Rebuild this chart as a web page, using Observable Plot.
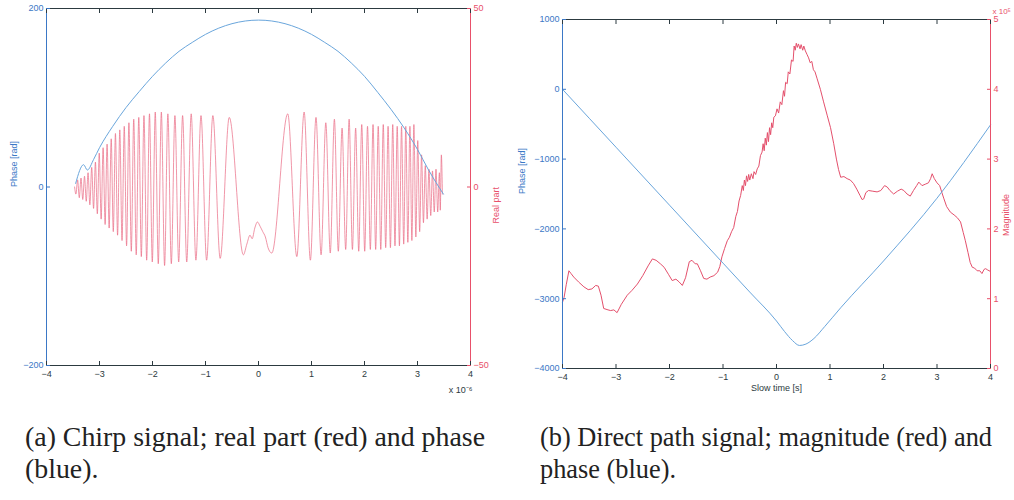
<!DOCTYPE html>
<html>
<head>
<meta charset="utf-8">
<script src="https://cdn.jsdelivr.net/npm/d3@7"></script>
<script src="https://cdn.jsdelivr.net/npm/@observablehq/plot@0.6"></script>
<style>
  html, body { margin: 0; padding: 0; background: #fff; }
  #page { position: relative; width: 1014px; height: 500px; overflow: hidden; background: #fff; }
  .panel { position: absolute; top: 0; }
  .cap { position: absolute; font-family: "Liberation Serif", "Times New Roman", serif; font-size: 28px; line-height: 32px; color: #222; transform-origin: 0 0; white-space: nowrap; }
  .cap .l1 { display: inline-block; }
</style>
</head>
<body>
<div id="page">
  <div id="left" class="panel" style="left:0px"></div>
  <div id="right" class="panel" style="left:500px"></div>
  <div class="cap" data-w="460" style="left:25px; top:421px;">
    <span class="l1">(a) Chirp signal; real part (red) and phase</span><br>
    <span>(blue).</span>
  </div>
  <div class="cap" data-w="452" style="left:540px; top:421px;">
    <span class="l1">(b) Direct path signal; magnitude (red) and</span><br>
    <span>phase (blue).</span>
  </div>
</div>
<script>
// ---------- Panel (a): chirp signal ----------
const xTicks = [-4, -3, -2, -1, 0, 1, 2, 3, 4];
const chirpPhaseTicks = [-200, 0, 200];
const chirpRealTicks = [-50, 0, 50];

// Phase (blue), time in units of 1e-6 s
const chirpPhaseT = [-3.45, -3.30, -3.23, -3.11, -3.0, -2.75, -2.5, -2.25, -2.0, -1.75, -1.5, -1.25, -1.0, -0.75, -0.5, -0.25, 0, 0.25, 0.5, 0.75, 1.0, 1.25, 1.5, 1.75, 2.0, 2.25, 2.5, 2.75, 3.0, 3.2, 3.35, 3.49];
const chirpPhaseV = [4, 25, 19, 31, 44, 68, 89, 107, 124, 139, 152, 162, 171, 178, 183, 186, 187, 186, 183, 178, 171, 162, 152, 139, 124, 106, 87, 66, 42, 20, 5, -8];

// Real part (red): successive extrema
const chirpReT = [
  -3.47, -3.445, -3.413, -3.381, -3.349, -3.316, -3.283, -3.250, -3.216, -3.182, -3.147, -3.112, -3.077, -3.041, -3.005,
  -2.969, -2.932, -2.894, -2.857, -2.818, -2.779, -2.740, -2.699, -2.659, -2.617, -2.575, -2.533, -2.489, -2.445,
  -2.400, -2.354, -2.307, -2.259, -2.211, -2.161, -2.110, -2.057, -2.004, -1.948, -1.891, -1.833, -1.772, -1.710,
  -1.645, -1.577, -1.506, -1.432, -1.354, -1.270, -1.181, -1.085, -0.979, -0.861, -0.723, -0.552, -0.285,
  -0.22, -0.16, -0.12, -0.07, -0.02, 0.03, 0.08, 0.13, 0.18, 0.25,
  0.552, 0.723, 0.861, 0.979, 1.085, 1.181, 1.270, 1.354, 1.432, 1.506, 1.577, 1.645, 1.710, 1.772, 1.833, 1.891,
  1.948, 2.004, 2.057, 2.110, 2.161, 2.211, 2.259, 2.307, 2.354, 2.400, 2.445, 2.489, 2.533, 2.575, 2.617, 2.659,
  2.699, 2.740, 2.779, 2.818, 2.857, 2.894, 2.932, 2.969, 3.005, 3.041, 3.077, 3.112, 3.147, 3.182, 3.216, 3.250,
  3.283, 3.316, 3.349, 3.381, 3.413, 3.43, 3.45, 3.47
];
const chirpReV = [
  0, -2, 2, -3, 2.5, -3.5, 3, -4, 4, -5, 5.5, -6, 7, -7.5, 9.5,
  -9, 11, -10.5, 12, -11.5, 13.5, -12.5, 15, -13.5, 16, -15, 17, -16.5, 18,
  -18, 19, -19, 19.5, -19.5, 20, -20.5, 20.5, -21, 21, -21.5, 21, -22, 20.5,
  -21.5, 20, -21, 20, -21, 20.5, -20.5, 20, -20.5, 20, -20, 19.5, -19,
  -16, -13.5, -14.5, -11.5, -9.8, -11, -12.5, -14, -17, -18.5,
  20.5, -19.5, 21, -20.5, 19.5, -19, 18, -18.5, 19, -18, 16.5, -17.5, 19, -17.5, 16.5, -18,
  17.5, -18, 17, -17.5, 17.5, -17.5, 17, -17.5, 17.5, -17, 17, -17, 17.5, -16.5, 17, -16.5,
  17, -16, 17, -15.5, 17, -15, 17.5, -14, 13, -12.5, 9, -10, 6, -9, 5, -8,
  4.5, -7, 5, -7, 4, -6.5, 9, -2
];

// ---------- Panel (b): direct path signal ----------
const slowTicks = [-4, -3, -2, -1, 0, 1, 2, 3, 4];
const dpPhaseTicks = [-4000, -3000, -2000, -1000, 0, 1000];
const dpMagTicks = [0, 1, 2, 3, 4, 5];

const dpPhaseT = [-4, -3, -2, -1, -0.5, 0, 0.15, 0.3, 0.43, 0.55, 0.7, 0.9, 1.2, 2, 3, 4];
const dpPhaseV = [0, -830, -1660, -2490, -2905, -3320, -3470, -3600, -3670, -3650, -3570, -3400, -3130, -2460, -1560, -510];

// Magnitude (x 10^5)
const dpMagT = [
  -4.00, -3.97, -3.93, -3.88, -3.84, -3.79, -3.70, -3.60, -3.52, -3.45, -3.38, -3.33, -3.28, -3.23, -3.15, -3.10, -3.04, -2.98,
  -2.90, -2.79, -2.70, -2.60, -2.50, -2.40, -2.32, -2.25, -2.17, -2.10, -2.02, -1.95, -1.88, -1.82, -1.76, -1.70, -1.63, -1.58,
  -1.52, -1.48, -1.42, -1.36, -1.30, -1.24, -1.17, -1.10, -1.06, -1.02, -0.97, -0.92, -0.88, -0.84, -0.80, -0.76, -0.73, -0.70,
  -0.67, -0.64, -0.62, -0.60, -0.58, -0.56, -0.54, -0.52, -0.50, -0.47, -0.44, -0.42, -0.39, -0.36, -0.33, -0.30, -0.27, -0.25,
  -0.23, -0.21, -0.19, -0.17, -0.15, -0.13, -0.11, -0.09, -0.07, -0.05, -0.02, 0.01, 0.04, 0.07, 0.10, 0.13, 0.15, 0.17, 0.20,
  0.22, 0.25, 0.28, 0.31, 0.33, 0.35, 0.37, 0.39, 0.41, 0.44, 0.46, 0.49, 0.51, 0.54, 0.57, 0.60, 0.63, 0.66, 0.69, 0.72, 0.76,
  0.82, 0.88, 0.95, 1.01, 1.07, 1.12, 1.16, 1.20, 1.26, 1.32, 1.38, 1.44, 1.50, 1.56, 1.60, 1.63, 1.67, 1.72, 1.80, 1.88, 1.95,
  2.02, 2.07, 2.12, 2.19, 2.26, 2.33, 2.38, 2.44, 2.50, 2.56, 2.62, 2.66, 2.72, 2.78, 2.84, 2.88, 2.91, 2.95, 3.00, 3.05, 3.10,
  3.13, 3.18, 3.25, 3.32, 3.38, 3.44, 3.49, 3.53, 3.58, 3.62, 3.66, 3.70, 3.75, 3.80, 3.84, 3.88, 3.91, 3.95, 4.00
];
const dpMagV = [
  0.95, 1.02, 1.20, 1.40, 1.36, 1.31, 1.24, 1.17, 1.13, 1.14, 1.19, 1.18, 1.05, 0.86, 0.84, 0.83, 0.84, 0.80,
  0.92, 1.05, 1.12, 1.21, 1.33, 1.47, 1.57, 1.55, 1.50, 1.45, 1.35, 1.26, 1.28, 1.24, 1.19, 1.30, 1.53, 1.55,
  1.50, 1.50, 1.40, 1.29, 1.28, 1.31, 1.33, 1.38, 1.46, 1.60, 1.72, 1.83, 1.88, 1.96, 2.02, 2.18, 2.25, 2.40,
  2.48, 2.62, 2.55, 2.70, 2.62, 2.76, 2.68, 2.78, 2.70, 2.79, 2.72, 2.82, 2.78, 2.86, 2.90, 3.05, 3.10, 3.22,
  3.12, 3.30, 3.20, 3.38, 3.25, 3.45, 3.35, 3.52, 3.45, 3.60, 3.62, 3.72, 3.66, 3.82, 3.78, 3.98, 3.90, 4.10, 4.08,
  4.25, 4.22, 4.42, 4.40, 4.62, 4.56, 4.66, 4.60, 4.65, 4.58, 4.64, 4.56, 4.62, 4.55, 4.50, 4.45, 4.38, 4.40, 4.28, 4.25, 4.15,
  4.00, 3.82, 3.62, 3.45, 3.22, 3.00, 2.85, 2.74, 2.75, 2.72, 2.70, 2.65, 2.57, 2.48, 2.42, 2.43, 2.52, 2.55, 2.54, 2.53, 2.55,
  2.62, 2.60, 2.55, 2.50, 2.54, 2.57, 2.55, 2.50, 2.47, 2.55, 2.62, 2.67, 2.62, 2.64, 2.66, 2.72, 2.79, 2.72, 2.66, 2.62, 2.50,
  2.43, 2.32, 2.24, 2.20, 2.16, 2.10, 1.95, 1.83, 1.66, 1.52, 1.45, 1.44, 1.40, 1.40, 1.36, 1.42, 1.43, 1.41, 1.39
];

// ---------- styling ----------
const BLUE_LINE = "#6aa6dc";
const BLUE_TEXT = "#3b78c6";
const RED_LINE = "#e4506c";
const RED_CHIRP = "#ea6882";
const RED_TEXT = "#e8506a";
const DARK = "#2c3a40";
const FONT = "'Liberation Sans', Arial, Helvetica, sans-serif";

function minus(v) { return v < 0 ? "\u2212" + Math.abs(v) : String(v); }

// Panel (a) – red real part mapped onto the phase scale (±50 -> ±200)
const kA = chirpPhaseTicks[2] / chirpRealTicks[2];
const phaseA = chirpPhaseT.map((t, i) => ({t, v: chirpPhaseV[i]}));
const realA = chirpReT.map((t, i) => ({t, v: chirpReV[i] * kA}));

const plotA = Plot.plot({
  width: 500, height: 400,
  marginLeft: 46, marginRight: 30, marginTop: 8, marginBottom: 35,
  style: {fontFamily: FONT, fontSize: "9px", background: "transparent", overflow: "visible"},
  x: {domain: [xTicks[0], xTicks[xTicks.length - 1]]},
  y: {domain: [chirpPhaseTicks[0], chirpPhaseTicks[2]]},
  marks: [
    Plot.line(realA, {x: "t", y: "v", stroke: RED_CHIRP, strokeWidth: 0.7, curve: "monotone-x"}),
    Plot.line(phaseA, {x: "t", y: "v", stroke: BLUE_LINE, strokeWidth: 1, curve: "monotone-x"}),
    Plot.ruleY([chirpPhaseTicks[2]], {stroke: DARK}),
    Plot.ruleY([chirpPhaseTicks[0]], {stroke: DARK}),
    Plot.ruleX([xTicks[0]], {stroke: BLUE_TEXT}),
    Plot.ruleX([xTicks[xTicks.length - 1]], {stroke: RED_TEXT}),
    Plot.axisX({anchor: "bottom", ticks: xTicks, tickSize: -4, tickPadding: 9, label: null, color: DARK, tickFormat: minus}),
    Plot.axisX({anchor: "top", ticks: xTicks, tickSize: -4, tickFormat: () => "", label: null, color: DARK}),
    Plot.axisY({anchor: "left", ticks: chirpPhaseTicks, tickSize: -4, tickPadding: 7, label: null, color: BLUE_TEXT, tickFormat: minus}),
    Plot.axisY({anchor: "right", ticks: chirpRealTicks.map(v => v * kA), tickSize: -4, tickPadding: 7, label: null, color: RED_TEXT, tickFormat: d => minus(d / kA)}),
    Plot.text(["Phase [rad]"], {frameAnchor: "left", rotate: -90, dx: -32, fill: BLUE_TEXT, fontSize: 9}),
    Plot.text(["Real part"], {frameAnchor: "right", rotate: -90, dx: 26, fill: RED_TEXT, fontSize: 9}),
    Plot.text(["x 10\u207B\u2076"], {frameAnchor: "bottom-right", textAnchor: "end", dx: 2, dy: 27, fill: DARK, fontSize: 9})
  ]
});
document.getElementById("left").appendChild(plotA);

// Panel (b) – magnitude mapped onto the phase scale (0..5 -> -4000..1000)
const mLo = dpPhaseTicks[0];
const kB = (dpPhaseTicks[dpPhaseTicks.length - 1] - dpPhaseTicks[0]) / dpMagTicks[dpMagTicks.length - 1];
const phaseB = dpPhaseT.map((t, i) => ({t, v: dpPhaseV[i]}));
const magB = dpMagT.map((t, i) => ({t, v: mLo + dpMagV[i] * kB}));

const plotB = Plot.plot({
  width: 514, height: 400,
  marginLeft: 62, marginRight: 24, marginTop: 19, marginBottom: 32,
  style: {fontFamily: FONT, fontSize: "9px", background: "transparent", overflow: "visible"},
  x: {domain: [slowTicks[0], slowTicks[slowTicks.length - 1]]},
  y: {domain: [dpPhaseTicks[0], dpPhaseTicks[dpPhaseTicks.length - 1]]},
  marks: [
    Plot.line(magB, {x: "t", y: "v", stroke: RED_LINE, strokeWidth: 1, curve: "linear"}),
    Plot.line(phaseB, {x: "t", y: "v", stroke: BLUE_LINE, strokeWidth: 1, curve: "monotone-x"}),
    Plot.ruleY([dpPhaseTicks[dpPhaseTicks.length - 1]], {stroke: DARK}),
    Plot.ruleY([dpPhaseTicks[0]], {stroke: DARK}),
    Plot.ruleX([slowTicks[0]], {stroke: BLUE_TEXT}),
    Plot.ruleX([slowTicks[slowTicks.length - 1]], {stroke: RED_TEXT}),
    Plot.axisX({anchor: "bottom", ticks: slowTicks, tickSize: -4, tickPadding: 9, label: null, color: DARK, tickFormat: minus}),
    Plot.axisX({anchor: "top", ticks: slowTicks, tickSize: -4, tickFormat: () => "", label: null, color: DARK}),
    Plot.axisY({anchor: "left", ticks: dpPhaseTicks, tickSize: -4, tickPadding: 7, label: null, color: BLUE_TEXT, tickFormat: minus}),
    Plot.axisY({anchor: "right", ticks: dpMagTicks.map(v => mLo + v * kB), tickSize: -4, tickPadding: 7, label: null, color: RED_TEXT, tickFormat: d => String((d - mLo) / kB)}),
    Plot.text(["Phase [rad]"], {frameAnchor: "left", rotate: -90, dx: -40, fill: BLUE_TEXT, fontSize: 9}),
    Plot.text(["Magnitude"], {frameAnchor: "right", rotate: -90, dx: 16, fill: RED_TEXT, fontSize: 9}),
    Plot.text(["Slow time [s]"], {frameAnchor: "bottom", dy: 22, fill: DARK, fontSize: 9}),
    Plot.text(["x 10\u2075"], {frameAnchor: "top-right", textAnchor: "start", dx: 2, dy: -11, fill: RED_TEXT, fontSize: 8})
  ]
});
document.getElementById("right").appendChild(plotB);

// Fit each caption's first line to the width it spans in the reference
document.querySelectorAll(".cap").forEach(c => {
  const target = +c.dataset.w;
  const w = c.querySelector(".l1").getBoundingClientRect().width;
  if (w > 0) c.style.transform = `scaleX(${target / w})`;
});
</script>
</body>
</html>
